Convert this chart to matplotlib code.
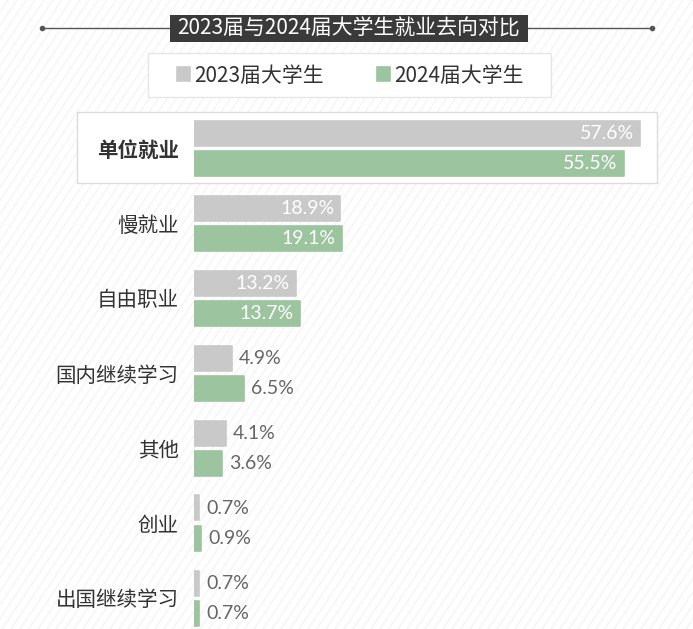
import matplotlib
matplotlib.use("Agg")
import matplotlib.pyplot as plt
from matplotlib.patches import Rectangle
import numpy as np

plt.rcParams['font.family'] = ['Noto Sans CJK SC', 'DejaVu Sans']

# ---- data ----
categories = ["单位就业", "慢就业", "自由职业", "国内继续学习", "其他", "创业", "出国继续学习"]
values_2023 = [57.6, 18.9, 13.2, 4.9, 4.1, 0.7, 0.7]
values_2024 = [55.5, 19.1, 13.7, 6.5, 3.6, 0.9, 0.7]
series_names = ["2023届大学生", "2024届大学生"]
title = "2023届与2024届大学生就业去向对比"

W, H = 693, 629
GRAY = "#c9c9c9"
GREEN = "#9cc49f"
DARK = "#333333"

fig = plt.figure(figsize=(W / 100, H / 100), dpi=100)
fig.patch.set_facecolor("white")

# background axes in pixel coordinates (decoration)
bg = fig.add_axes([0, 0, 1, 1], zorder=0)
bg.set_xlim(0, W)
bg.set_ylim(H, 0)
bg.axis("off")

# faint diagonal texture
for x0 in np.arange(-700, W + 50, 9):
    bg.plot([x0, x0 + 420], [H, 0], color="#f3f3f3", lw=0.8, zorder=0)

# title line and box
bg.plot([42, 652], [28, 28], color="#555555", lw=1.0, zorder=2)
bg.plot([42, 652], [28, 28], "o", color="#555555", ms=3, zorder=2)
bg.add_patch(Rectangle((170, 15), 358, 27, facecolor="#3a3a3a", edgecolor="none", zorder=3))
bg.text(349, 28.5, title, color="white", fontsize=15, ha="center", va="center", zorder=4)

# legend frame
bg.add_patch(Rectangle((148, 53), 403, 44, facecolor="white", edgecolor="#e6e6e6", lw=1.0, zorder=2))
# highlight frame for first row
bg.add_patch(Rectangle((77, 112), 580, 71, facecolor="white", edgecolor="#dcdcdc", lw=1.0, zorder=2))

# main axes
left_px, right_px, top_px, bot_px = 194, 655, 110, 629
ax = fig.add_axes([left_px / W, 1 - bot_px / H, (right_px - left_px) / W, (bot_px - top_px) / H], zorder=1)
ax.set_facecolor("none")
px_per_unit = 7.74
ax.set_xlim(0, (right_px - left_px) / px_per_unit)
row_px = 75.0
ax.set_ylim(6 + (bot_px - 598) / row_px, -(148 - top_px) / row_px)

y = np.arange(len(categories))
off = 15 / row_px
bh = 25 / row_px
b1 = ax.barh(y - off, values_2023, height=bh, color=GRAY, edgecolor=GRAY, lw=1.2,
             joinstyle="round", label=series_names[0])
b2 = ax.barh(y + off, values_2024, height=bh, color=GREEN, edgecolor=GREEN, lw=1.2,
             joinstyle="round", label=series_names[1])

num_font = ["Lato", "DejaVu Sans"]
for vals, yy in ((values_2023, y - off), (values_2024, y + off)):
    for v, yp in zip(vals, yy):
        if v >= 10:
            ax.text(v - 0.8, yp + 0.01, f"{v}%", ha="right", va="center", color="white",
                    fontsize=14, family=num_font)
        else:
            ax.text(v + 0.9, yp + 0.01, f"{v}%", ha="left", va="center", color="#666666",
                    fontsize=14, family=num_font)

ax.set_yticks(y)
ax.set_yticklabels(categories, fontsize=14.8, color=DARK)
ax.get_yticklabels()[0].set_fontweight("bold")
ax.tick_params(axis="y", length=0, pad=11)
ax.set_xticks([])
for s in ax.spines.values():
    s.set_visible(False)

leg = fig.legend(handles=[b1, b2], labels=series_names, loc="center",
                 bbox_to_anchor=(350 / W, 1 - 75.5 / H), ncol=2, frameon=False,
                 fontsize=15, handlelength=0.63, handleheight=0.63,
                 handletextpad=0.2, columnspacing=2.55, labelcolor=DARK)

fig.savefig("out.png", dpi=100)
